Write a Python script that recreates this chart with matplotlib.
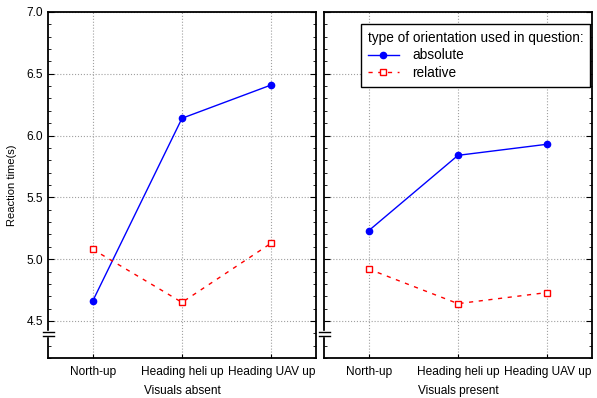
import matplotlib
matplotlib.use("Agg")
import matplotlib.pyplot as plt
from matplotlib.ticker import MultipleLocator
import matplotlib.transforms as mtransforms

plt.rcParams['font.family'] = ['Liberation Sans', 'DejaVu Sans']
plt.rcParams['font.size'] = 8.6

categories = ["North-up", "Heading heli up", "Heading UAV up"]
panels = ["Visuals absent", "Visuals present"]
absolute = [[4.66, 6.14, 6.41], [5.23, 5.84, 5.93]]
relative = [[5.08, 4.65, 5.13], [4.92, 4.64, 4.73]]

W, H = 597, 398
fig = plt.figure(figsize=(W / 100, H / 100), dpi=100)

lefts = [48, 324]
axes = []
for i, left in enumerate(lefts):
    ax = fig.add_axes([left / W, (H - 358) / H, 268 / W, 346 / H])
    x = range(len(categories))
    ax.plot(x, absolute[i], color='blue', lw=1, marker='o', ms=4.5,
            markerfacecolor='blue', label='absolute')
    ax.plot(x, relative[i], color='red', lw=1, ls=(0, (3, 4)), marker='s', ms=5,
            markerfacecolor='white', markeredgecolor='red', markeredgewidth=1,
            label='relative')
    ax.set_xlim(-0.5, 2.5)
    ax.set_ylim(4.2, 7.0)
    ax.set_xticks(list(x))
    ax.set_xticklabels(categories)
    ax.yaxis.set_major_locator(MultipleLocator(0.5))
    ax.yaxis.set_minor_locator(MultipleLocator(0.1))
    ax.tick_params(axis='both', which='both', direction='in', right=True, colors='black')
    ax.tick_params(axis='y', which='major', length=4)
    ax.tick_params(axis='y', which='minor', length=2.5)
    ax.tick_params(axis='x', which='major', length=3, pad=6)
    ax.grid(True, which='major', color='#a0a0a0', ls=':', lw=0.8)
    for s in ax.spines.values():
        s.set_linewidth(1.3)
    ax.set_xlabel(panels[i], labelpad=5)
    if i == 0:
        ax.set_ylabel("Reaction time(s)", labelpad=7, fontsize=8)
        ax.set_yticks([4.5, 5.0, 5.5, 6.0, 6.5, 7.0])
        ax.set_yticklabels(["4.5", "5.0", "5.5", "6.0", "6.5", "7.0"])
    else:
        ax.set_yticklabels([])
    # axis break marks on the left spine
    trans = mtransforms.blended_transform_factory(ax.transAxes, ax.transData)
    ax.fill_between([-0.01, 0.01], 4.375, 4.415, color='white', transform=trans,
                    clip_on=False, zorder=5)
    for yb in (4.41, 4.38):
        ax.plot([-0.018, 0.022], [yb, yb], color='black', lw=1, transform=trans,
                clip_on=False, zorder=6)
    axes.append(ax)

leg = axes[1].legend(title="type of orientation used in question:", loc='upper right',
                     bbox_to_anchor=(0.993, 0.965), borderaxespad=0, frameon=True,
                     fancybox=False, edgecolor='black', framealpha=1, borderpad=0.5,
                     labelspacing=0.25, handlelength=2.3, handletextpad=1.0,
                     fontsize=9.8)
leg.get_title().set_fontsize(9.8)
leg._legend_box.align = "left"
leg.get_frame().set_linewidth(1.0)

fig.savefig("out.png", dpi=100)
